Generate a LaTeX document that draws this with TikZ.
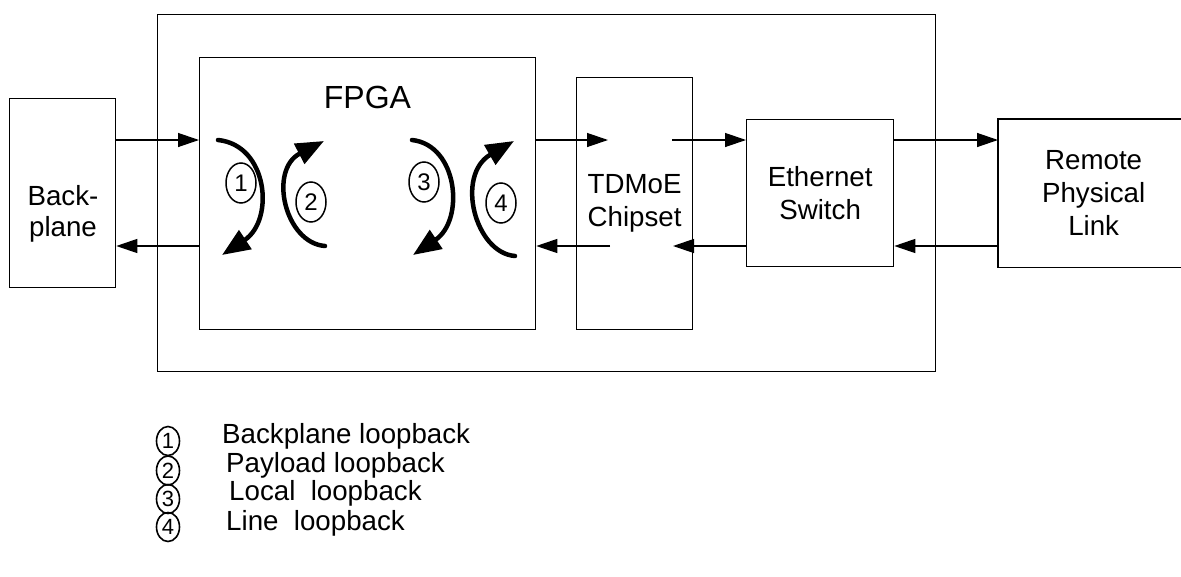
\documentclass[tikz,border=0pt]{standalone}
\usepackage{fontspec}
\setmainfont{Liberation Sans}
\usetikzlibrary{arrows.meta,shapes.geometric}
\begin{document}
\begin{tikzpicture}[x=1pt,y=-1pt,
  box/.style={draw, line width=1.3pt, rectangle, inner sep=0pt, anchor=north west, align=center, font=\fontsize{27.7}{33}\selectfont},
  arr/.style={line width=1.3pt, -{Triangle[length=21pt,width=14pt]}},
  loopar/.style={line width=4.5pt, line cap=round, -{Triangle[length=28pt,width=22pt]}},
  num/.style={draw, ellipse, line width=1.5pt, inner sep=0pt, minimum width=30pt, minimum height=40pt, font=\fontsize{24}{24}\selectfont},
  lnum/.style={draw, ellipse, line width=1.6pt, inner sep=0pt, minimum width=23pt, minimum height=29pt, font=\fontsize{22}{22}\selectfont},
  lbl/.style={font=\fontsize{27.7}{33}\selectfont, anchor=base west, inner sep=0pt}
]
\useasboundingbox (0,0) rectangle (1181,576);
\clip (0,0) rectangle (1181,576);

% boxes
\node[box, minimum width=778pt, minimum height=357pt] (outer) at (157,14) {};
\node[box, minimum width=106pt, minimum height=189pt] (back) at (9,98) {};
\node[font=\fontsize{27.7}{31}\selectfont, align=center, inner sep=0pt] (backl) at (63,214) {Back-\\plane};
\node[box, minimum width=336pt, minimum height=272pt] (fpga) at (199,57) {};
\node[font=\fontsize{32}{32}\selectfont, anchor=base, inner sep=0pt] (fpgal) at (367.5,108) {FPGA};
\node[box, minimum width=116pt, minimum height=252pt] (tdm) at (576,77) {TDMoE\\Chipset};
\node[box, minimum width=147pt, minimum height=147pt] (eth) at (746,119) {Ethernet\\Switch};
\node[box, draw=none, minimum width=190pt, minimum height=147pt] (rem) at (998,119) {Remote\\Physical\\Link};
\draw[line width=1.3pt] (rem.north east) -- (rem.north west) -- (rem.south west) -- (rem.south east);

% straight connectors
\coordinate (yt) at (0,140);
\coordinate (yb) at (0,246);
\coordinate (tin) at (608,140);
\coordinate (tout) at (672,140);
\coordinate (tin2) at (673,246);
\coordinate (tout2) at (610,246);
\draw[arr] (back.east |- yt) -- (fpga.west |- yt);
\draw[arr] (fpga.west |- yb) -- (back.east |- yb);
\draw[arr] (fpga.east |- yt) -- (tin);
\draw[arr] (tout) -- (eth.west |- yt);
\draw[arr] (eth.west |- yb) -- (tin2);
\draw[arr] (tout2) -- (fpga.east |- yb);
\draw[arr] (eth.east |- yt) -- (rem.west |- yt);
\draw[arr] (rem.west |- yb) -- (eth.east |- yb);

% loopback arrows
\coordinate (l1s) at (218,140); \coordinate (l1e) at (222,255);
\coordinate (l2s) at (325,246); \coordinate (l2e) at (324,141);
\coordinate (l3s) at (412,140); \coordinate (l3e) at (413,255);
\coordinate (l4s) at (515,256); \coordinate (l4e) at (514,141);
\draw[loopar] (l1s) .. controls (268,145) and (275,220) .. (l1e);
\draw[loopar] (l2s) .. controls (285,243) and (268,170) .. (l2e);
\draw[loopar] (l3s) .. controls (458,145) and (465,220) .. (l3e);
\draw[loopar] (l4s) .. controls (475,253) and (455,175) .. (l4e);

\node[num] (c1) at (241,183) {1};
\node[num] (c2) at (311,202) {2};
\node[num] (c3) at (424,182) {3};
\node[num] (c4) at (501,203) {4};

% legend
\node[lnum] (k1) at (168,441) {1};
\node[lnum] (k2) at (168,470.5) {2};
\node[lnum] (k3) at (168,499) {3};
\node[lnum] (k4) at (168,527) {4};
\node[lbl] (t1) at (222,443) {Backplane loopback};
\node[lbl] (t2) at (226,472) {Payload loopback};
\node[lbl] (t3) at (229,500) {Local\ \ loopback};
\node[lbl] (t4) at (226,530) {Line\ \ loopback};
\end{tikzpicture}
\end{document}
